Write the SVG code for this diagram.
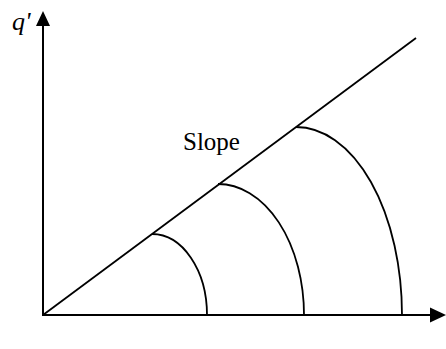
<svg xmlns="http://www.w3.org/2000/svg" width="446" height="349" viewBox="0 0 446 349">
<style>
.ax{stroke:#000;stroke-width:2;fill:none}
.ln{stroke:#000;stroke-width:1.8;fill:none}
.hd{fill:#000;stroke:none}
.t{font-family:"Liberation Serif","Times New Roman",serif;fill:#000}
</style>
<rect width="446" height="349" fill="#fff"/>
<g id="connectors">
<line class="ax" x1="43" y1="316" x2="43" y2="24"/>
<polygon class="hd" points="43,11 36,26 50,26"/>
<line class="ax" x1="42" y1="315" x2="432" y2="315"/>
<polygon class="hd" points="446,315 430,307.5 430,322.5"/>
<line class="ln" x1="43" y1="315" x2="416" y2="38"/>
</g>
<g id="arc1"><path class="ln" d="M152,234 A55,81 0 0 1 207,315"/></g>
<g id="arc2"><path class="ln" d="M218,184 A86,131 0 0 1 304,315"/></g>
<g id="arc3"><path class="ln" d="M296,127 A106,188 0 0 1 402,315"/></g>
<g id="label-q"><text class="t" x="12" y="30" font-size="26" font-style="italic">q'</text></g>
<g id="label-slope"><text class="t" x="183" y="150" font-size="25">Slope</text></g>
</svg>
